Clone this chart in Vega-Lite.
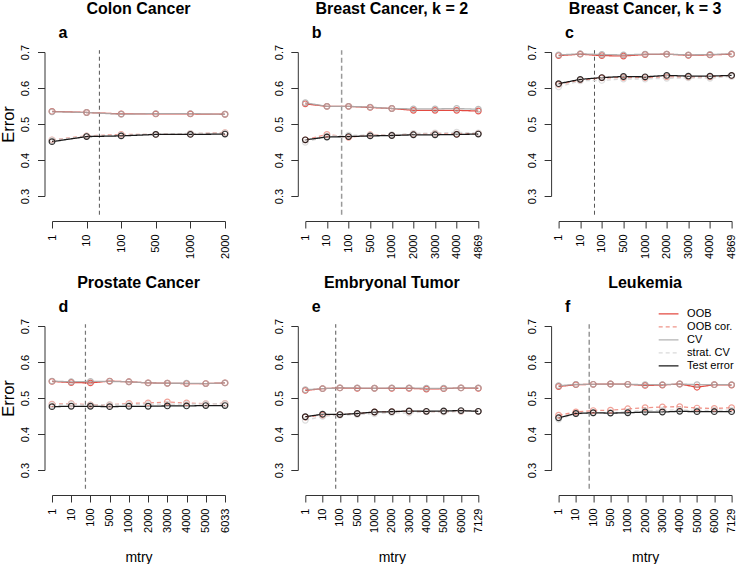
{
  "$schema": "https://vega.github.io/schema/vega-lite/v6.json",
  "padding": {"left": 0, "top": 0, "right": 0, "bottom": 0},
  "autosize": {"type": "pad"},
  "background": "white",
  "config": {
    "view": {"stroke": null},
    "font": "Liberation Sans",
    "title": {"font": "Liberation Sans", "fontSize": 16, "fontWeight": "bold", "color": "#000", "anchor": "middle", "offset": 8},
    "axis": {"grid": false, "domainColor": "#333", "tickColor": "#333", "tickSize": 7, "labelFont": "Liberation Sans", "labelFontSize": 11, "labelColor": "#000", "titleFont": "Liberation Sans", "titleFontWeight": "normal", "titleColor": "#000", "labelFlush": false, "labelOverlap": false, "labelBound": false},
    "axisX": {"offset": 25, "labelAngle": -90, "labelAlign": "right", "labelBaseline": "middle", "labelPadding": 6, "titleFontSize": 14, "titlePadding": 18},
    "axisY": {"offset": 7.5, "labelAngle": -90, "labelAlign": "center", "labelBaseline": "alphabetic", "labelPadding": 8.6, "titleFontSize": 16.5, "titlePadding": 3},
    "legend": {"labelFont": "Liberation Sans", "labelFontSize": 11, "labelColor": "#000"}
  },
  "datasets": {
    "marks": [
      {"panel": "a", "pos": 1.37, "letter": "a"},
      {"panel": "b", "pos": 1.68, "letter": "b"},
      {"panel": "c", "pos": 1.66, "letter": "c"},
      {"panel": "d", "pos": 1.74, "letter": "d"},
      {"panel": "e", "pos": 1.76, "letter": "e"},
      {"panel": "f", "pos": 1.77, "letter": "f"}
    ],
    "err": [
      {"panel":"a","series":"OOB","pos":0,"error":0.535},{"panel":"a","series":"OOB","pos":1,"error":0.532},{"panel":"a","series":"OOB","pos":2,"error":0.528},{"panel":"a","series":"OOB","pos":3,"error":0.528},{"panel":"a","series":"OOB","pos":4,"error":0.528},{"panel":"a","series":"OOB","pos":5,"error":0.527},
      {"panel":"a","series":"CV","pos":0,"error":0.534},{"panel":"a","series":"CV","pos":1,"error":0.532},{"panel":"a","series":"CV","pos":2,"error":0.527},{"panel":"a","series":"CV","pos":3,"error":0.529},{"panel":"a","series":"CV","pos":4,"error":0.529},{"panel":"a","series":"CV","pos":5,"error":0.527},
      {"panel":"a","series":"OOB cor.","pos":0,"error":0.456},{"panel":"a","series":"OOB cor.","pos":1,"error":0.467},{"panel":"a","series":"OOB cor.","pos":2,"error":0.471},{"panel":"a","series":"OOB cor.","pos":3,"error":0.471},{"panel":"a","series":"OOB cor.","pos":4,"error":0.473},{"panel":"a","series":"OOB cor.","pos":5,"error":0.476},
      {"panel":"a","series":"strat. CV","pos":0,"error":0.455},{"panel":"a","series":"strat. CV","pos":1,"error":0.466},{"panel":"a","series":"strat. CV","pos":2,"error":0.469},{"panel":"a","series":"strat. CV","pos":3,"error":0.472},{"panel":"a","series":"strat. CV","pos":4,"error":0.474},{"panel":"a","series":"strat. CV","pos":5,"error":0.475},
      {"panel":"a","series":"Test error","pos":0,"error":0.451},{"panel":"a","series":"Test error","pos":1,"error":0.465},{"panel":"a","series":"Test error","pos":2,"error":0.467},{"panel":"a","series":"Test error","pos":3,"error":0.471},{"panel":"a","series":"Test error","pos":4,"error":0.471},{"panel":"a","series":"Test error","pos":5,"error":0.472},

      {"panel":"b","series":"OOB","pos":0,"error":0.556},{"panel":"b","series":"OOB","pos":1,"error":0.549},{"panel":"b","series":"OOB","pos":2,"error":0.549},{"panel":"b","series":"OOB","pos":3,"error":0.546},{"panel":"b","series":"OOB","pos":4,"error":0.543},{"panel":"b","series":"OOB","pos":5,"error":0.538},{"panel":"b","series":"OOB","pos":6,"error":0.538},{"panel":"b","series":"OOB","pos":7,"error":0.538},{"panel":"b","series":"OOB","pos":8,"error":0.536},
      {"panel":"b","series":"CV","pos":0,"error":0.559},{"panel":"b","series":"CV","pos":1,"error":0.549},{"panel":"b","series":"CV","pos":2,"error":0.549},{"panel":"b","series":"CV","pos":3,"error":0.547},{"panel":"b","series":"CV","pos":4,"error":0.543},{"panel":"b","series":"CV","pos":5,"error":0.542},{"panel":"b","series":"CV","pos":6,"error":0.542},{"panel":"b","series":"CV","pos":7,"error":0.543},{"panel":"b","series":"CV","pos":8,"error":0.541},
      {"panel":"b","series":"OOB cor.","pos":0,"error":0.456},{"panel":"b","series":"OOB cor.","pos":1,"error":0.471},{"panel":"b","series":"OOB cor.","pos":2,"error":0.463},{"panel":"b","series":"OOB cor.","pos":3,"error":0.470},{"panel":"b","series":"OOB cor.","pos":4,"error":0.469},{"panel":"b","series":"OOB cor.","pos":5,"error":0.472},{"panel":"b","series":"OOB cor.","pos":6,"error":0.474},{"panel":"b","series":"OOB cor.","pos":7,"error":0.472},{"panel":"b","series":"OOB cor.","pos":8,"error":0.474},
      {"panel":"b","series":"strat. CV","pos":0,"error":0.449},{"panel":"b","series":"strat. CV","pos":1,"error":0.466},{"panel":"b","series":"strat. CV","pos":2,"error":0.469},{"panel":"b","series":"strat. CV","pos":3,"error":0.469},{"panel":"b","series":"strat. CV","pos":4,"error":0.470},{"panel":"b","series":"strat. CV","pos":5,"error":0.474},{"panel":"b","series":"strat. CV","pos":6,"error":0.475},{"panel":"b","series":"strat. CV","pos":7,"error":0.477},{"panel":"b","series":"strat. CV","pos":8,"error":0.475},
      {"panel":"b","series":"Test error","pos":0,"error":0.456},{"panel":"b","series":"Test error","pos":1,"error":0.464},{"panel":"b","series":"Test error","pos":2,"error":0.465},{"panel":"b","series":"Test error","pos":3,"error":0.467},{"panel":"b","series":"Test error","pos":4,"error":0.468},{"panel":"b","series":"Test error","pos":5,"error":0.470},{"panel":"b","series":"Test error","pos":6,"error":0.470},{"panel":"b","series":"Test error","pos":7,"error":0.471},{"panel":"b","series":"Test error","pos":8,"error":0.472},

      {"panel":"c","series":"OOB","pos":0,"error":0.690},{"panel":"c","series":"OOB","pos":1,"error":0.694},{"panel":"c","series":"OOB","pos":2,"error":0.690},{"panel":"c","series":"OOB","pos":3,"error":0.689},{"panel":"c","series":"OOB","pos":4,"error":0.693},{"panel":"c","series":"OOB","pos":5,"error":0.694},{"panel":"c","series":"OOB","pos":6,"error":0.691},{"panel":"c","series":"OOB","pos":7,"error":0.692},{"panel":"c","series":"OOB","pos":8,"error":0.694},
      {"panel":"c","series":"CV","pos":0,"error":0.692},{"panel":"c","series":"CV","pos":1,"error":0.695},{"panel":"c","series":"CV","pos":2,"error":0.693},{"panel":"c","series":"CV","pos":3,"error":0.692},{"panel":"c","series":"CV","pos":4,"error":0.694},{"panel":"c","series":"CV","pos":5,"error":0.694},{"panel":"c","series":"CV","pos":6,"error":0.692},{"panel":"c","series":"CV","pos":7,"error":0.693},{"panel":"c","series":"CV","pos":8,"error":0.695},
      {"panel":"c","series":"OOB cor.","pos":0,"error":0.610},{"panel":"c","series":"OOB cor.","pos":1,"error":0.622},{"panel":"c","series":"OOB cor.","pos":2,"error":0.628},{"panel":"c","series":"OOB cor.","pos":3,"error":0.629},{"panel":"c","series":"OOB cor.","pos":4,"error":0.629},{"panel":"c","series":"OOB cor.","pos":5,"error":0.631},{"panel":"c","series":"OOB cor.","pos":6,"error":0.630},{"panel":"c","series":"OOB cor.","pos":7,"error":0.631},{"panel":"c","series":"OOB cor.","pos":8,"error":0.634},
      {"panel":"c","series":"strat. CV","pos":0,"error":0.603},{"panel":"c","series":"strat. CV","pos":1,"error":0.620},{"panel":"c","series":"strat. CV","pos":2,"error":0.621},{"panel":"c","series":"strat. CV","pos":3,"error":0.625},{"panel":"c","series":"strat. CV","pos":4,"error":0.625},{"panel":"c","series":"strat. CV","pos":5,"error":0.627},{"panel":"c","series":"strat. CV","pos":6,"error":0.628},{"panel":"c","series":"strat. CV","pos":7,"error":0.627},{"panel":"c","series":"strat. CV","pos":8,"error":0.632},
      {"panel":"c","series":"Test error","pos":0,"error":0.612},{"panel":"c","series":"Test error","pos":1,"error":0.624},{"panel":"c","series":"Test error","pos":2,"error":0.629},{"panel":"c","series":"Test error","pos":3,"error":0.632},{"panel":"c","series":"Test error","pos":4,"error":0.631},{"panel":"c","series":"Test error","pos":5,"error":0.635},{"panel":"c","series":"Test error","pos":6,"error":0.633},{"panel":"c","series":"Test error","pos":7,"error":0.633},{"panel":"c","series":"Test error","pos":8,"error":0.635},

      {"panel":"d","series":"OOB","pos":0,"error":0.546},{"panel":"d","series":"OOB","pos":1,"error":0.543},{"panel":"d","series":"OOB","pos":2,"error":0.542},{"panel":"d","series":"OOB","pos":3,"error":0.547},{"panel":"d","series":"OOB","pos":4,"error":0.545},{"panel":"d","series":"OOB","pos":5,"error":0.542},{"panel":"d","series":"OOB","pos":6,"error":0.541},{"panel":"d","series":"OOB","pos":7,"error":0.540},{"panel":"d","series":"OOB","pos":8,"error":0.540},{"panel":"d","series":"OOB","pos":9,"error":0.542},
      {"panel":"d","series":"CV","pos":0,"error":0.547},{"panel":"d","series":"CV","pos":1,"error":0.545},{"panel":"d","series":"CV","pos":2,"error":0.546},{"panel":"d","series":"CV","pos":3,"error":0.546},{"panel":"d","series":"CV","pos":4,"error":0.545},{"panel":"d","series":"CV","pos":5,"error":0.542},{"panel":"d","series":"CV","pos":6,"error":0.541},{"panel":"d","series":"CV","pos":7,"error":0.541},{"panel":"d","series":"CV","pos":8,"error":0.540},{"panel":"d","series":"CV","pos":9,"error":0.542},
      {"panel":"d","series":"OOB cor.","pos":0,"error":0.483},{"panel":"d","series":"OOB cor.","pos":1,"error":0.484},{"panel":"d","series":"OOB cor.","pos":2,"error":0.481},{"panel":"d","series":"OOB cor.","pos":3,"error":0.481},{"panel":"d","series":"OOB cor.","pos":4,"error":0.485},{"panel":"d","series":"OOB cor.","pos":5,"error":0.486},{"panel":"d","series":"OOB cor.","pos":6,"error":0.489},{"panel":"d","series":"OOB cor.","pos":7,"error":0.486},{"panel":"d","series":"OOB cor.","pos":8,"error":0.484},{"panel":"d","series":"OOB cor.","pos":9,"error":0.485},
      {"panel":"d","series":"strat. CV","pos":0,"error":0.481},{"panel":"d","series":"strat. CV","pos":1,"error":0.483},{"panel":"d","series":"strat. CV","pos":2,"error":0.480},{"panel":"d","series":"strat. CV","pos":3,"error":0.482},{"panel":"d","series":"strat. CV","pos":4,"error":0.482},{"panel":"d","series":"strat. CV","pos":5,"error":0.483},{"panel":"d","series":"strat. CV","pos":6,"error":0.483},{"panel":"d","series":"strat. CV","pos":7,"error":0.483},{"panel":"d","series":"strat. CV","pos":8,"error":0.484},{"panel":"d","series":"strat. CV","pos":9,"error":0.484},
      {"panel":"d","series":"Test error","pos":0,"error":0.476},{"panel":"d","series":"Test error","pos":1,"error":0.477},{"panel":"d","series":"Test error","pos":2,"error":0.477},{"panel":"d","series":"Test error","pos":3,"error":0.476},{"panel":"d","series":"Test error","pos":4,"error":0.477},{"panel":"d","series":"Test error","pos":5,"error":0.477},{"panel":"d","series":"Test error","pos":6,"error":0.478},{"panel":"d","series":"Test error","pos":7,"error":0.478},{"panel":"d","series":"Test error","pos":8,"error":0.479},{"panel":"d","series":"Test error","pos":9,"error":0.479},

      {"panel":"e","series":"OOB","pos":0,"error":0.521},{"panel":"e","series":"OOB","pos":1,"error":0.526},{"panel":"e","series":"OOB","pos":2,"error":0.528},{"panel":"e","series":"OOB","pos":3,"error":0.527},{"panel":"e","series":"OOB","pos":4,"error":0.527},{"panel":"e","series":"OOB","pos":5,"error":0.527},{"panel":"e","series":"OOB","pos":6,"error":0.527},{"panel":"e","series":"OOB","pos":7,"error":0.525},{"panel":"e","series":"OOB","pos":8,"error":0.526},{"panel":"e","series":"OOB","pos":9,"error":0.528},{"panel":"e","series":"OOB","pos":10,"error":0.527},
      {"panel":"e","series":"CV","pos":0,"error":0.523},{"panel":"e","series":"CV","pos":1,"error":0.526},{"panel":"e","series":"CV","pos":2,"error":0.528},{"panel":"e","series":"CV","pos":3,"error":0.528},{"panel":"e","series":"CV","pos":4,"error":0.527},{"panel":"e","series":"CV","pos":5,"error":0.528},{"panel":"e","series":"CV","pos":6,"error":0.528},{"panel":"e","series":"CV","pos":7,"error":0.527},{"panel":"e","series":"CV","pos":8,"error":0.527},{"panel":"e","series":"CV","pos":9,"error":0.528},{"panel":"e","series":"CV","pos":10,"error":0.528},
      {"panel":"e","series":"OOB cor.","pos":0,"error":0.447},{"panel":"e","series":"OOB cor.","pos":1,"error":0.452},{"panel":"e","series":"OOB cor.","pos":2,"error":0.454},{"panel":"e","series":"OOB cor.","pos":3,"error":0.456},{"panel":"e","series":"OOB cor.","pos":4,"error":0.461},{"panel":"e","series":"OOB cor.","pos":5,"error":0.462},{"panel":"e","series":"OOB cor.","pos":6,"error":0.463},{"panel":"e","series":"OOB cor.","pos":7,"error":0.462},{"panel":"e","series":"OOB cor.","pos":8,"error":0.462},{"panel":"e","series":"OOB cor.","pos":9,"error":0.463},{"panel":"e","series":"OOB cor.","pos":10,"error":0.463},
      {"panel":"e","series":"strat. CV","pos":0,"error":0.438},{"panel":"e","series":"strat. CV","pos":1,"error":0.449},{"panel":"e","series":"strat. CV","pos":2,"error":0.452},{"panel":"e","series":"strat. CV","pos":3,"error":0.454},{"panel":"e","series":"strat. CV","pos":4,"error":0.456},{"panel":"e","series":"strat. CV","pos":5,"error":0.459},{"panel":"e","series":"strat. CV","pos":6,"error":0.458},{"panel":"e","series":"strat. CV","pos":7,"error":0.462},{"panel":"e","series":"strat. CV","pos":8,"error":0.461},{"panel":"e","series":"strat. CV","pos":9,"error":0.463},{"panel":"e","series":"strat. CV","pos":10,"error":0.463},
      {"panel":"e","series":"Test error","pos":0,"error":0.448},{"panel":"e","series":"Test error","pos":1,"error":0.455},{"panel":"e","series":"Test error","pos":2,"error":0.454},{"panel":"e","series":"Test error","pos":3,"error":0.457},{"panel":"e","series":"Test error","pos":4,"error":0.461},{"panel":"e","series":"Test error","pos":5,"error":0.462},{"panel":"e","series":"Test error","pos":6,"error":0.464},{"panel":"e","series":"Test error","pos":7,"error":0.463},{"panel":"e","series":"Test error","pos":8,"error":0.464},{"panel":"e","series":"Test error","pos":9,"error":0.465},{"panel":"e","series":"Test error","pos":10,"error":0.463},

      {"panel":"f","series":"OOB","pos":0,"error":0.532},{"panel":"f","series":"OOB","pos":1,"error":0.537},{"panel":"f","series":"OOB","pos":2,"error":0.538},{"panel":"f","series":"OOB","pos":3,"error":0.539},{"panel":"f","series":"OOB","pos":4,"error":0.538},{"panel":"f","series":"OOB","pos":5,"error":0.535},{"panel":"f","series":"OOB","pos":6,"error":0.536},{"panel":"f","series":"OOB","pos":7,"error":0.539},{"panel":"f","series":"OOB","pos":8,"error":0.530},{"panel":"f","series":"OOB","pos":9,"error":0.537},{"panel":"f","series":"OOB","pos":10,"error":0.536},
      {"panel":"f","series":"CV","pos":0,"error":0.534},{"panel":"f","series":"CV","pos":1,"error":0.538},{"panel":"f","series":"CV","pos":2,"error":0.538},{"panel":"f","series":"CV","pos":3,"error":0.539},{"panel":"f","series":"CV","pos":4,"error":0.538},{"panel":"f","series":"CV","pos":5,"error":0.537},{"panel":"f","series":"CV","pos":6,"error":0.537},{"panel":"f","series":"CV","pos":7,"error":0.539},{"panel":"f","series":"CV","pos":8,"error":0.537},{"panel":"f","series":"CV","pos":9,"error":0.537},{"panel":"f","series":"CV","pos":10,"error":0.537},
      {"panel":"f","series":"OOB cor.","pos":0,"error":0.452},{"panel":"f","series":"OOB cor.","pos":1,"error":0.461},{"panel":"f","series":"OOB cor.","pos":2,"error":0.465},{"panel":"f","series":"OOB cor.","pos":3,"error":0.466},{"panel":"f","series":"OOB cor.","pos":4,"error":0.470},{"panel":"f","series":"OOB cor.","pos":5,"error":0.473},{"panel":"f","series":"OOB cor.","pos":6,"error":0.475},{"panel":"f","series":"OOB cor.","pos":7,"error":0.476},{"panel":"f","series":"OOB cor.","pos":8,"error":0.472},{"panel":"f","series":"OOB cor.","pos":9,"error":0.471},{"panel":"f","series":"OOB cor.","pos":10,"error":0.473},
      {"panel":"f","series":"strat. CV","pos":0,"error":0.441},{"panel":"f","series":"strat. CV","pos":1,"error":0.456},{"panel":"f","series":"strat. CV","pos":2,"error":0.458},{"panel":"f","series":"strat. CV","pos":3,"error":0.459},{"panel":"f","series":"strat. CV","pos":4,"error":0.462},{"panel":"f","series":"strat. CV","pos":5,"error":0.465},{"panel":"f","series":"strat. CV","pos":6,"error":0.466},{"panel":"f","series":"strat. CV","pos":7,"error":0.467},{"panel":"f","series":"strat. CV","pos":8,"error":0.465},{"panel":"f","series":"strat. CV","pos":9,"error":0.466},{"panel":"f","series":"strat. CV","pos":10,"error":0.466},
      {"panel":"f","series":"Test error","pos":0,"error":0.445},{"panel":"f","series":"Test error","pos":1,"error":0.457},{"panel":"f","series":"Test error","pos":2,"error":0.459},{"panel":"f","series":"Test error","pos":3,"error":0.458},{"panel":"f","series":"Test error","pos":4,"error":0.459},{"panel":"f","series":"Test error","pos":5,"error":0.461},{"panel":"f","series":"Test error","pos":6,"error":0.461},{"panel":"f","series":"Test error","pos":7,"error":0.463},{"panel":"f","series":"Test error","pos":8,"error":0.462},{"panel":"f","series":"Test error","pos":9,"error":0.462},{"panel":"f","series":"Test error","pos":10,"error":0.462}
    ]
  },
  "columns": 3,
  "spacing": {"row": 130, "column": 80.3},
  "bounds": "flush",
  "resolve": {"legend": {"color": "independent", "strokeDash": "independent", "strokeWidth": "independent"}},
  "concat": [
    {
      "width": 173, "height": 144, "title": "Colon Cancer",
      "layer": [
        {"data": {"name": "marks"}, "transform": [{"filter": "datum.panel == 'a'"}], "mark": {"type": "rule", "strokeDash": [4, 3], "color": "#555", "strokeWidth": 1}, "encoding": {"x": {"field": "pos", "type": "quantitative"}, "y": {"datum": 0.248}, "y2": {"datum": 0.705}}},
        {"data": {"name": "err"}, "transform": [{"filter": "datum.panel == 'a'"}], "mark": {"type": "line", "opacity": 0.9},
         "encoding": {
           "x": {"field": "pos", "type": "quantitative", "scale": {"domain": [0, 5], "nice": false, "zero": false}, "axis": {"values": [0,1,2,3,4,5], "tickCount": 30, "labelOverlap": false, "labelExpr": "['1','10','100','500','1000','2000'][datum.value]", "title": null}},
           "y": {"field": "error", "type": "quantitative", "scale": {"domain": [0.3, 0.7], "nice": false, "zero": false}, "axis": {"values": [0.3,0.4,0.5,0.6,0.7], "tickCount": 30, "labelOverlap": false, "format": ".1f", "title": "Error"}},
           "color": {"field": "series", "type": "nominal", "scale": {"domain": ["OOB","OOB cor.","CV","strat. CV","Test error"], "range": ["#E0362C","#EE8A7E","#ABABAB","#D6D6D6","#000000"]}, "legend": null},
           "strokeDash": {"field": "series", "type": "nominal", "scale": {"domain": ["OOB","OOB cor.","CV","strat. CV","Test error"], "range": [[1,0],[4,3],[1,0],[4,3],[1,0]]}, "legend": null},
           "strokeWidth": {"field": "series", "type": "nominal", "scale": {"domain": ["OOB","OOB cor.","CV","strat. CV","Test error"], "range": [1.3,1.3,2,1.3,1.3]}, "legend": null}
         }},
        {"data": {"name": "err"}, "transform": [{"filter": "datum.panel == 'a'"}], "mark": {"type": "point", "filled": false, "size": 32, "strokeWidth": 1.2, "opacity": 0.8},
         "encoding": {"x": {"field": "pos", "type": "quantitative"}, "y": {"field": "error", "type": "quantitative"}, "color": {"field": "series", "type": "nominal", "legend": null}}},
        {"data": {"name": "marks"}, "transform": [{"filter": "datum.panel == 'a'"}], "mark": {"type": "text", "fontSize": 16, "fontWeight": "bold", "align": "left", "baseline": "alphabetic", "color": "#000"}, "encoding": {"x": {"datum": 0.19}, "y": {"datum": 0.74}, "text": {"field": "letter"}}}
      ]
    },
    {
      "width": 173, "height": 144, "title": "Breast Cancer, k = 2",
      "layer": [
        {"data": {"name": "marks"}, "transform": [{"filter": "datum.panel == 'b'"}], "mark": {"type": "rule", "strokeDash": [5, 3], "color": "#999", "strokeWidth": 1.5}, "encoding": {"x": {"field": "pos", "type": "quantitative"}, "y": {"datum": 0.248}, "y2": {"datum": 0.705}}},
        {"data": {"name": "err"}, "transform": [{"filter": "datum.panel == 'b'"}], "mark": {"type": "line", "opacity": 0.9},
         "encoding": {
           "x": {"field": "pos", "type": "quantitative", "scale": {"domain": [0, 8], "nice": false, "zero": false}, "axis": {"values": [0,1,2,3,4,5,6,7,8], "tickCount": 30, "labelOverlap": false, "labelExpr": "['1','10','100','500','1000','2000','3000','4000','4869'][datum.value]", "title": null}},
           "y": {"field": "error", "type": "quantitative", "scale": {"domain": [0.3, 0.7], "nice": false, "zero": false}, "axis": {"values": [0.3,0.4,0.5,0.6,0.7], "tickCount": 30, "labelOverlap": false, "format": ".1f", "title": null}},
           "color": {"field": "series", "type": "nominal", "scale": {"domain": ["OOB","OOB cor.","CV","strat. CV","Test error"], "range": ["#E0362C","#EE8A7E","#ABABAB","#D6D6D6","#000000"]}, "legend": null},
           "strokeDash": {"field": "series", "type": "nominal", "scale": {"domain": ["OOB","OOB cor.","CV","strat. CV","Test error"], "range": [[1,0],[4,3],[1,0],[4,3],[1,0]]}, "legend": null},
           "strokeWidth": {"field": "series", "type": "nominal", "scale": {"domain": ["OOB","OOB cor.","CV","strat. CV","Test error"], "range": [1.3,1.3,2,1.3,1.3]}, "legend": null}
         }},
        {"data": {"name": "err"}, "transform": [{"filter": "datum.panel == 'b'"}], "mark": {"type": "point", "filled": false, "size": 32, "strokeWidth": 1.2, "opacity": 0.8},
         "encoding": {"x": {"field": "pos", "type": "quantitative"}, "y": {"field": "error", "type": "quantitative"}, "color": {"field": "series", "type": "nominal", "legend": null}}},
        {"data": {"name": "marks"}, "transform": [{"filter": "datum.panel == 'b'"}], "mark": {"type": "text", "fontSize": 16, "fontWeight": "bold", "align": "left", "baseline": "alphabetic", "color": "#000"}, "encoding": {"x": {"datum": 0.3}, "y": {"datum": 0.74}, "text": {"field": "letter"}}}
      ]
    },
    {
      "width": 173, "height": 144, "title": "Breast Cancer, k = 3",
      "layer": [
        {"data": {"name": "marks"}, "transform": [{"filter": "datum.panel == 'c'"}], "mark": {"type": "rule", "strokeDash": [4, 3], "color": "#555", "strokeWidth": 1}, "encoding": {"x": {"field": "pos", "type": "quantitative"}, "y": {"datum": 0.248}, "y2": {"datum": 0.705}}},
        {"data": {"name": "err"}, "transform": [{"filter": "datum.panel == 'c'"}], "mark": {"type": "line", "opacity": 0.9},
         "encoding": {
           "x": {"field": "pos", "type": "quantitative", "scale": {"domain": [0, 8], "nice": false, "zero": false}, "axis": {"values": [0,1,2,3,4,5,6,7,8], "tickCount": 30, "labelOverlap": false, "labelExpr": "['1','10','100','500','1000','2000','3000','4000','4869'][datum.value]", "title": null}},
           "y": {"field": "error", "type": "quantitative", "scale": {"domain": [0.3, 0.7], "nice": false, "zero": false}, "axis": {"values": [0.3,0.4,0.5,0.6,0.7], "tickCount": 30, "labelOverlap": false, "format": ".1f", "title": null}},
           "color": {"field": "series", "type": "nominal", "scale": {"domain": ["OOB","OOB cor.","CV","strat. CV","Test error"], "range": ["#E0362C","#EE8A7E","#ABABAB","#D6D6D6","#000000"]}, "legend": null},
           "strokeDash": {"field": "series", "type": "nominal", "scale": {"domain": ["OOB","OOB cor.","CV","strat. CV","Test error"], "range": [[1,0],[4,3],[1,0],[4,3],[1,0]]}, "legend": null},
           "strokeWidth": {"field": "series", "type": "nominal", "scale": {"domain": ["OOB","OOB cor.","CV","strat. CV","Test error"], "range": [1.3,1.3,2,1.3,1.3]}, "legend": null}
         }},
        {"data": {"name": "err"}, "transform": [{"filter": "datum.panel == 'c'"}], "mark": {"type": "point", "filled": false, "size": 32, "strokeWidth": 1.2, "opacity": 0.8},
         "encoding": {"x": {"field": "pos", "type": "quantitative"}, "y": {"field": "error", "type": "quantitative"}, "color": {"field": "series", "type": "nominal", "legend": null}}},
        {"data": {"name": "marks"}, "transform": [{"filter": "datum.panel == 'c'"}], "mark": {"type": "text", "fontSize": 16, "fontWeight": "bold", "align": "left", "baseline": "alphabetic", "color": "#000"}, "encoding": {"x": {"datum": 0.3}, "y": {"datum": 0.74}, "text": {"field": "letter"}}}
      ]
    },
    {
      "width": 173, "height": 144, "title": "Prostate Cancer",
      "layer": [
        {"data": {"name": "marks"}, "transform": [{"filter": "datum.panel == 'd'"}], "mark": {"type": "rule", "strokeDash": [4, 3], "color": "#777", "strokeWidth": 1.2}, "encoding": {"x": {"field": "pos", "type": "quantitative"}, "y": {"datum": 0.248}, "y2": {"datum": 0.705}}},
        {"data": {"name": "err"}, "transform": [{"filter": "datum.panel == 'd'"}], "mark": {"type": "line", "opacity": 0.9},
         "encoding": {
           "x": {"field": "pos", "type": "quantitative", "scale": {"domain": [0, 9], "nice": false, "zero": false}, "axis": {"values": [0,1,2,3,4,5,6,7,8,9], "tickCount": 30, "labelOverlap": false, "labelExpr": "['1','10','100','500','1000','2000','3000','4000','5000','6033'][datum.value]", "title": "mtry"}},
           "y": {"field": "error", "type": "quantitative", "scale": {"domain": [0.3, 0.7], "nice": false, "zero": false}, "axis": {"values": [0.3,0.4,0.5,0.6,0.7], "tickCount": 30, "labelOverlap": false, "format": ".1f", "title": "Error"}},
           "color": {"field": "series", "type": "nominal", "scale": {"domain": ["OOB","OOB cor.","CV","strat. CV","Test error"], "range": ["#E0362C","#EE8A7E","#ABABAB","#D6D6D6","#000000"]}, "legend": null},
           "strokeDash": {"field": "series", "type": "nominal", "scale": {"domain": ["OOB","OOB cor.","CV","strat. CV","Test error"], "range": [[1,0],[4,3],[1,0],[4,3],[1,0]]}, "legend": null},
           "strokeWidth": {"field": "series", "type": "nominal", "scale": {"domain": ["OOB","OOB cor.","CV","strat. CV","Test error"], "range": [1.3,1.3,2,1.3,1.3]}, "legend": null}
         }},
        {"data": {"name": "err"}, "transform": [{"filter": "datum.panel == 'd'"}], "mark": {"type": "point", "filled": false, "size": 32, "strokeWidth": 1.2, "opacity": 0.8},
         "encoding": {"x": {"field": "pos", "type": "quantitative"}, "y": {"field": "error", "type": "quantitative"}, "color": {"field": "series", "type": "nominal", "legend": null}}},
        {"data": {"name": "marks"}, "transform": [{"filter": "datum.panel == 'd'"}], "mark": {"type": "text", "fontSize": 16, "fontWeight": "bold", "align": "left", "baseline": "alphabetic", "color": "#000"}, "encoding": {"x": {"datum": 0.34}, "y": {"datum": 0.74}, "text": {"field": "letter"}}}
      ]
    },
    {
      "width": 173, "height": 144, "title": "Embryonal Tumor",
      "layer": [
        {"data": {"name": "marks"}, "transform": [{"filter": "datum.panel == 'e'"}], "mark": {"type": "rule", "strokeDash": [4, 3], "color": "#555", "strokeWidth": 1}, "encoding": {"x": {"field": "pos", "type": "quantitative"}, "y": {"datum": 0.248}, "y2": {"datum": 0.705}}},
        {"data": {"name": "err"}, "transform": [{"filter": "datum.panel == 'e'"}], "mark": {"type": "line", "opacity": 0.9},
         "encoding": {
           "x": {"field": "pos", "type": "quantitative", "scale": {"domain": [0, 10], "nice": false, "zero": false}, "axis": {"values": [0,1,2,3,4,5,6,7,8,9,10], "tickCount": 30, "labelOverlap": false, "labelExpr": "['1','10','100','500','1000','2000','3000','4000','5000','6000','7129'][datum.value]", "title": "mtry"}},
           "y": {"field": "error", "type": "quantitative", "scale": {"domain": [0.3, 0.7], "nice": false, "zero": false}, "axis": {"values": [0.3,0.4,0.5,0.6,0.7], "tickCount": 30, "labelOverlap": false, "format": ".1f", "title": null}},
           "color": {"field": "series", "type": "nominal", "scale": {"domain": ["OOB","OOB cor.","CV","strat. CV","Test error"], "range": ["#E0362C","#EE8A7E","#ABABAB","#D6D6D6","#000000"]}, "legend": null},
           "strokeDash": {"field": "series", "type": "nominal", "scale": {"domain": ["OOB","OOB cor.","CV","strat. CV","Test error"], "range": [[1,0],[4,3],[1,0],[4,3],[1,0]]}, "legend": null},
           "strokeWidth": {"field": "series", "type": "nominal", "scale": {"domain": ["OOB","OOB cor.","CV","strat. CV","Test error"], "range": [1.3,1.3,2,1.3,1.3]}, "legend": null}
         }},
        {"data": {"name": "err"}, "transform": [{"filter": "datum.panel == 'e'"}], "mark": {"type": "point", "filled": false, "size": 32, "strokeWidth": 1.2, "opacity": 0.8},
         "encoding": {"x": {"field": "pos", "type": "quantitative"}, "y": {"field": "error", "type": "quantitative"}, "color": {"field": "series", "type": "nominal", "legend": null}}},
        {"data": {"name": "marks"}, "transform": [{"filter": "datum.panel == 'e'"}], "mark": {"type": "text", "fontSize": 16, "fontWeight": "bold", "align": "left", "baseline": "alphabetic", "color": "#000"}, "encoding": {"x": {"datum": 0.376}, "y": {"datum": 0.74}, "text": {"field": "letter"}}}
      ]
    },
    {
      "width": 173, "height": 144, "title": "Leukemia",
      "layer": [
        {"data": {"name": "marks"}, "transform": [{"filter": "datum.panel == 'f'"}], "mark": {"type": "rule", "strokeDash": [5, 3], "color": "#999", "strokeWidth": 1.5}, "encoding": {"x": {"field": "pos", "type": "quantitative"}, "y": {"datum": 0.248}, "y2": {"datum": 0.705}}},
        {"data": {"name": "err"}, "transform": [{"filter": "datum.panel == 'f'"}], "mark": {"type": "line", "opacity": 0.9},
         "encoding": {
           "x": {"field": "pos", "type": "quantitative", "scale": {"domain": [0, 10], "nice": false, "zero": false}, "axis": {"values": [0,1,2,3,4,5,6,7,8,9,10], "tickCount": 30, "labelOverlap": false, "labelExpr": "['1','10','100','500','1000','2000','3000','4000','5000','6000','7129'][datum.value]", "title": "mtry"}},
           "y": {"field": "error", "type": "quantitative", "scale": {"domain": [0.3, 0.7], "nice": false, "zero": false}, "axis": {"values": [0.3,0.4,0.5,0.6,0.7], "tickCount": 30, "labelOverlap": false, "format": ".1f", "title": null}},
           "color": {"field": "series", "type": "nominal", "scale": {"domain": ["OOB","OOB cor.","CV","strat. CV","Test error"], "range": ["#E0362C","#EE8A7E","#ABABAB","#D6D6D6","#000000"]}, "legend": {"orient": "none", "legendX": 103.5, "legendY": -18.6, "title": null, "symbolType": "M-1.8,0H1.8", "symbolSize": 121, "labelOffset": 12, "rowPadding": 1, "padding": 0, "labelFontSize": 11}},
           "strokeDash": {"field": "series", "type": "nominal", "scale": {"domain": ["OOB","OOB cor.","CV","strat. CV","Test error"], "range": [[1,0],[4,3],[1,0],[4,3],[1,0]]}, "legend": {"orient": "none", "legendX": 103.5, "legendY": -18.6, "title": null, "symbolType": "M-1.8,0H1.8", "symbolSize": 121, "labelOffset": 12, "rowPadding": 1, "padding": 0, "labelFontSize": 11}},
           "strokeWidth": {"field": "series", "type": "nominal", "scale": {"domain": ["OOB","OOB cor.","CV","strat. CV","Test error"], "range": [1.3,1.3,2,1.3,1.3]}, "legend": {"orient": "none", "legendX": 103.5, "legendY": -18.6, "title": null, "symbolType": "M-1.8,0H1.8", "symbolSize": 121, "labelOffset": 12, "rowPadding": 1, "padding": 0, "labelFontSize": 11}}
         }},
        {"data": {"name": "err"}, "transform": [{"filter": "datum.panel == 'f'"}], "mark": {"type": "point", "filled": false, "size": 32, "strokeWidth": 1.2, "opacity": 0.8},
         "encoding": {"x": {"field": "pos", "type": "quantitative"}, "y": {"field": "error", "type": "quantitative"}, "color": {"field": "series", "type": "nominal", "legend": null}}},
        {"data": {"name": "marks"}, "transform": [{"filter": "datum.panel == 'f'"}], "mark": {"type": "text", "fontSize": 16, "fontWeight": "bold", "align": "left", "baseline": "alphabetic", "color": "#000"}, "encoding": {"x": {"datum": 0.376}, "y": {"datum": 0.74}, "text": {"field": "letter"}}}
      ]
    }
  ]
}
